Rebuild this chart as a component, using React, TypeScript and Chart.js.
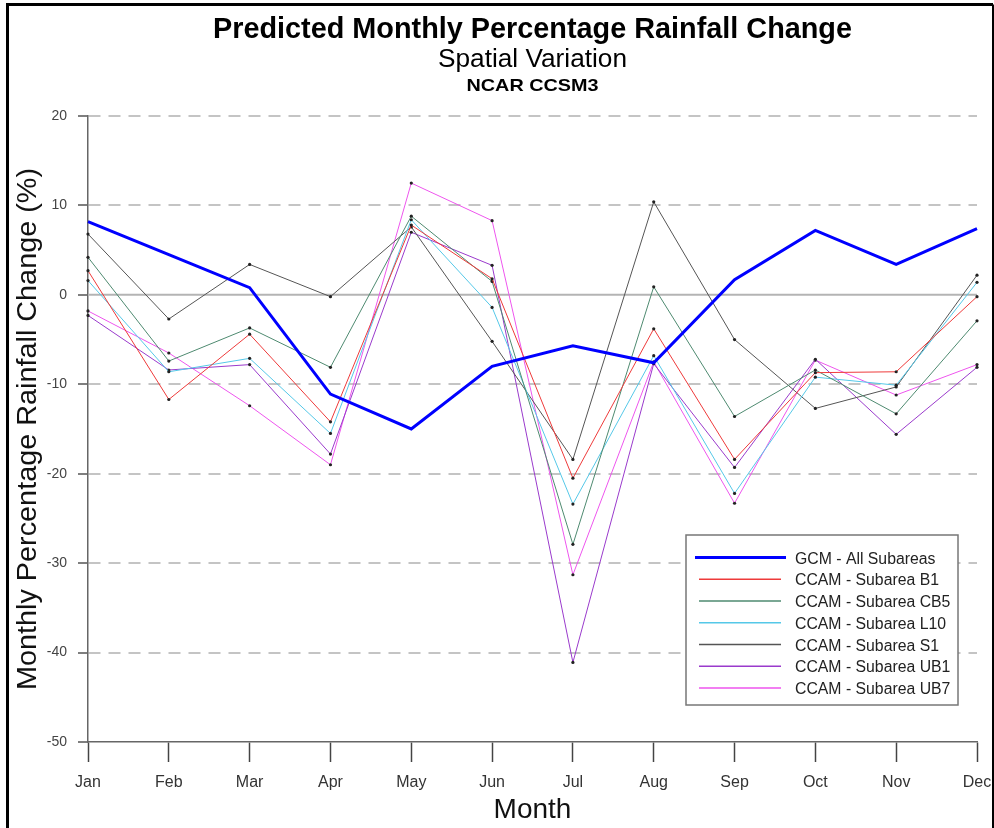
import React, { useEffect, useRef } from 'react';
import { Chart, registerables } from 'chart.js';

Chart.register(...registerables);

const months = ['Jan', 'Feb', 'Mar', 'Apr', 'May', 'Jun', 'Jul', 'Aug', 'Sep', 'Oct', 'Nov', 'Dec'];
const gcmAll = [8.2, 4.5, 0.8, -11.1, -15.0, -8.0, -5.7, -7.6, 1.7, 7.2, 3.4, 7.4];
const ccamB1 = [2.7, -11.7, -4.4, -14.2, 7.8, 1.8, -20.5, -3.8, -18.4, -8.7, -8.6, -0.2];
const ccamCB5 = [4.2, -7.4, -3.7, -8.1, 8.8, 1.5, -27.9, 0.9, -13.6, -8.4, -13.3, -2.9];
const ccamL10 = [1.6, -8.6, -7.1, -15.5, 8.4, -1.4, -23.4, -6.8, -22.2, -9.2, -10.1, 1.4];
const ccamS1 = [6.8, -2.7, 3.4, -0.2, 7.6, -5.2, -18.4, 10.4, -5.0, -12.7, -10.3, 2.2];
const ccamUB1 = [-2.3, -8.4, -7.8, -17.8, 7.0, 3.3, -41.1, -7.7, -19.3, -7.2, -15.6, -8.1];
const ccamUB7 = [-1.8, -6.5, -12.4, -19.0, 12.5, 8.3, -31.3, -7.5, -23.3, -7.3, -11.2, -7.8];

const seriesLabels = [
  'GCM - All Subareas',
  'CCAM - Subarea B1',
  'CCAM - Subarea CB5',
  'CCAM - Subarea L10',
  'CCAM - Subarea S1',
  'CCAM - Subarea UB1',
  'CCAM - Subarea UB7',
];
const seriesColors = ['#0000ff', '#ee3a3a', '#4e8a70', '#55c8e8', '#555555', '#9a3acc', '#ee55ee'];
const seriesWidths = [3, 1, 1, 1, 1, 1, 1];
const seriesData = [gcmAll, ccamB1, ccamCB5, ccamL10, ccamS1, ccamUB1, ccamUB7];

const yMin = -50;
const yMax = 20;
const yStep = 10;

const FONT = '"Liberation Sans", Arial, sans-serif';

function drawText(ctx: CanvasRenderingContext2D, text: string, x: number, y: number, font: string, color: string, targetW?: number, align: CanvasTextAlign = 'center') {
  ctx.save();
  ctx.font = font;
  ctx.fillStyle = color;
  ctx.textAlign = align;
  ctx.textBaseline = 'alphabetic';
  const w = ctx.measureText(text).width;
  const sx = targetW ? targetW / w : 1;
  ctx.translate(x, y);
  ctx.scale(sx, 1);
  ctx.fillText(text, 0, 0);
  ctx.restore();
}

const decorPlugin = {
  id: 'decor',
  beforeDraw(chart: any) {
    const { ctx } = chart;
    // outer frame
    ctx.save();
    ctx.strokeStyle = '#000';
    ctx.lineWidth = 3;
    ctx.beginPath();
    ctx.moveTo(7.5, 840);
    ctx.lineTo(7.5, 4.5);
    ctx.lineTo(993, 4.5);
    ctx.stroke();
    ctx.lineWidth = 2;
    ctx.beginPath();
    ctx.moveTo(993, 4.5);
    ctx.lineTo(993, 840);
    ctx.stroke();
    ctx.restore();
  },
  beforeDatasetsDraw(chart: any) {
    const { ctx, chartArea, scales } = chart;
    const y0 = scales.y.getPixelForValue(0);
    ctx.save();
    ctx.strokeStyle = '#b4b4b4';
    ctx.lineWidth = 2;
    ctx.beginPath();
    ctx.moveTo(chartArea.left, y0);
    ctx.lineTo(chartArea.right, y0);
    ctx.stroke();
    ctx.restore();
  },
  afterDraw(chart: any) {
    const { ctx, chartArea } = chart;
    const cx = (chartArea.left + chartArea.right) / 2;
    // titles
    drawText(ctx, 'Predicted Monthly Percentage Rainfall Change', cx, 38, `bold 29px ${FONT}`, '#000', 639);
    drawText(ctx, 'Spatial Variation', cx, 67, `25px ${FONT}`, '#000', 189);
    drawText(ctx, 'NCAR CCSM3', cx, 91, `bold 17px ${FONT}`, '#000', 132);
    // axis titles
    drawText(ctx, 'Month', cx, 818, `28px ${FONT}`, '#111');
    ctx.save();
    ctx.translate(36, (chartArea.top + chartArea.bottom) / 2);
    ctx.rotate(-Math.PI / 2);
    drawText(ctx, 'Monthly Percentage Rainfall Change (%)', 0, 0, `27px ${FONT}`, '#111', 522);
    ctx.restore();

    // legend
    const lx = 686, ly = 535, lw = 272, lh = 170;
    ctx.save();
    ctx.fillStyle = '#fff';
    ctx.fillRect(lx, ly, lw, lh);
    ctx.strokeStyle = '#777';
    ctx.lineWidth = 1.5;
    ctx.strokeRect(lx, ly, lw, lh);
    for (let i = 0; i < seriesLabels.length; i++) {
      const yy = 557.5 + i * 21.75;
      ctx.strokeStyle = seriesColors[i];
      ctx.lineWidth = i === 0 ? 3 : 1.5;
      ctx.beginPath();
      if (i === 0) {
        ctx.moveTo(695, yy);
        ctx.lineTo(786, yy);
      } else {
        ctx.moveTo(699, yy);
        ctx.lineTo(781, yy);
      }
      ctx.stroke();
      drawText(ctx, seriesLabels[i], 795, yy + 6, `15.8px ${FONT}`, '#222', undefined, 'left');
    }
    ctx.restore();
  },
};

export default function App() {
  const ref = useRef<HTMLCanvasElement | null>(null);
  useEffect(() => {
    if (!ref.current) return;
    const datasets = seriesData.map((d, i) => ({
      label: seriesLabels[i],
      data: d,
      borderColor: seriesColors[i],
      backgroundColor: seriesColors[i],
      borderWidth: seriesWidths[i],
      pointRadius: i === 0 ? 0 : 1.6,
      pointBackgroundColor: '#222',
      pointBorderWidth: 0,
      tension: 0,
      fill: false,
    }));
    const chart = new Chart(ref.current, {
      type: 'line',
      data: { labels: months, datasets },
      options: {
        animation: false,
        responsive: false,
        events: [],
        layout: { padding: { left: 0, right: 17, top: 116, bottom: 0 } },
        plugins: { legend: { display: false }, title: { display: false }, tooltip: { enabled: false } },
        scales: {
          x: {
            type: 'category',
            offset: false,
            grid: { drawOnChartArea: false, drawTicks: true, tickLength: 20, tickColor: '#444', tickWidth: 1.5 },
            border: { display: true, color: '#666', width: 1.5 },
            ticks: { font: { family: FONT, size: 16 }, color: '#333', padding: 11, maxRotation: 0, autoSkip: false },
            afterFit: (s: any) => { s.height = 86; s.paddingRight = 0; s.paddingLeft = 0; },
          },
          y: {
            min: yMin,
            max: yMax,
            ticks: { stepSize: yStep, font: { family: FONT, size: 14 }, color: '#444', padding: 11 },
            grid: {
              color: (c: any) => (c.tick && (c.tick.value === 0 || c.tick.value === yMin) ? 'rgba(0,0,0,0)' : '#c4c4c4'),
              lineWidth: 2,
              drawTicks: true,
              tickLength: 10,
              tickColor: '#555',
              tickWidth: 1.5,
            },
            border: { display: true, color: '#666', width: 1.5, dash: [12, 8] },
            afterFit: (s: any) => { s.width = 88; s.paddingTop = 0; s.paddingBottom = 0; },
          },
        },
      },
      plugins: [decorPlugin],
    } as any);
    return () => chart.destroy();
  }, []);
  return (
    <div style={{ position: 'fixed', left: 0, top: 0, width: 994, height: 828, background: '#fff' }}>
      <canvas ref={ref} width={994} height={828} style={{ display: 'block' }} />
    </div>
  );
}
